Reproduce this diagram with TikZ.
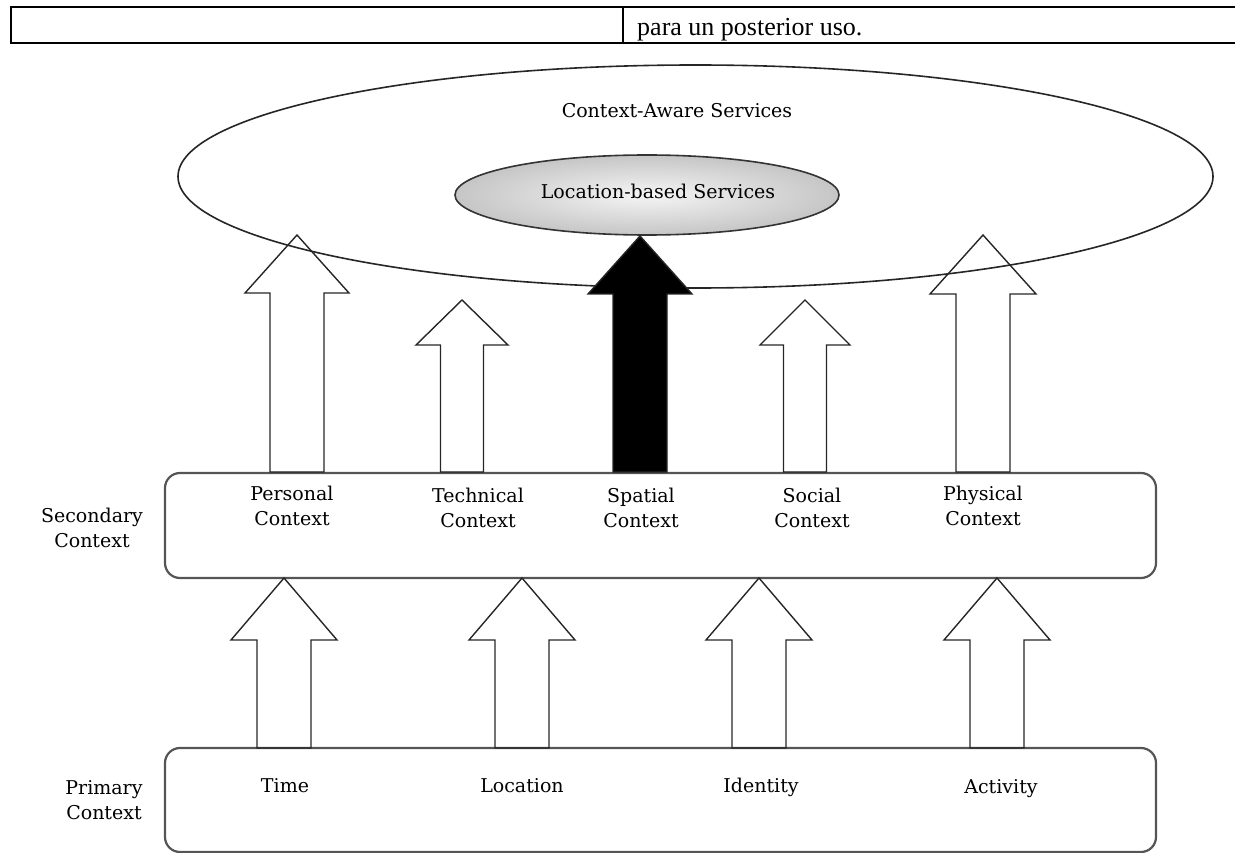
\documentclass[tikz,border=0pt]{standalone}
\usepackage{fontspec}
\setmainfont{Liberation Serif}
\newfontfamily\diagfont{DejaVu Serif}
\usetikzlibrary{shapes.geometric}
\definecolor{boxgray}{RGB}{85,85,85}
\newcommand{\fatarr}[7][]{%
  \draw[arrowline,#1] ({#2-#6},#3) -- ({#2-#6},#5) -- ({#2-#7},#5) -- (#2,#4)
    -- ({#2+#7},#5) -- ({#2+#6},#5) -- ({#2+#6},#3) -- cycle;}
\newcommand{\twol}[2]{\strut #1\\\strut #2}
\begin{document}
\begin{tikzpicture}[x=1pt,y=-1pt,
  arrowline/.style={draw=black!85,line width=1.4pt,line join=miter},
  ctxbox/.style={draw=boxgray,line width=2.2pt,rounded corners=15pt},
  lbl/.style={font=\diagfont\fontsize{19}{25}\selectfont,align=center,inner sep=0pt},
  tabline/.style={line width=2pt}]
\useasboundingbox (0,0) rectangle (1235,853);
% header table
\draw[tabline] (11,7) -- (1235,7);
\draw[tabline] (11,6) -- (11,44);
\draw[tabline] (623,7) -- (623,43);
\draw[line width=1.3pt] (10,43) -- (1176,43);
\draw[line width=2.5pt] (1176,43) -- (1235,43);
\node[anchor=base west,inner sep=0pt,font=\fontsize{26}{30}\selectfont] (hdr) at (637,36) {para un posterior uso.};
% boxes
\draw[ctxbox] (165,473) rectangle (1156,578);
\draw[ctxbox] (165,748) rectangle (1156,852);
% big ellipse
\node[ellipse,draw=black!85,line width=1.6pt,minimum width=1035pt,minimum height=223pt,inner sep=0pt] (cas) at (695.5,176.5) {};
\node[lbl] (castext) at (677,113) {\strut Context-Aware Services};
% small ellipse
\node[ellipse,draw=black!80,line width=1.6pt,minimum width=384pt,minimum height=80pt,inner sep=0pt,
  inner color=white!92!gray,outer color=gray!45] (lbs) at (647,195) {};
\node[lbl] (lbstext) at (658,194) {\strut Location-based Services};
% upper arrows
\fatarr{297}{472}{235}{293}{27}{52}
\fatarr{462}{472}{300}{345}{21.5}{46}
\fatarr[fill=black]{640}{472}{236}{294}{27}{52}
\fatarr{805}{472}{300}{345}{21.5}{45}
\fatarr{983}{472}{235}{294}{27}{53}
% lower arrows
\fatarr{284}{748}{578}{640}{27}{53}
\fatarr{522}{748}{578}{640}{27}{53}
\fatarr{759}{748}{578}{640}{27}{53}
\fatarr{997}{748}{578}{640}{27}{53}
% labels
\node[lbl] (sec) at (92,530) {\twol{Secondary}{Context}};
\node[lbl] (pri) at (104,802) {\twol{Primary}{Context}};
\node[lbl] (per) at (292,508) {\twol{Personal}{Context}};
\node[lbl] (tec) at (478,510) {\twol{Technical}{Context}};
\node[lbl] (spa) at (641,510) {\twol{Spatial}{Context}};
\node[lbl] (soc) at (812,510) {\twol{Social}{Context}};
\node[lbl] (phy) at (983,508) {\twol{Physical}{Context}};
\node[lbl] (tim) at (285,787) {\strut Time};
\node[lbl] (loc) at (522,787) {\strut Location};
\node[lbl] (ide) at (761,787) {\strut Identity};
\node[lbl] (act) at (1001,788) {\strut Activity};
\end{tikzpicture}
\end{document}
